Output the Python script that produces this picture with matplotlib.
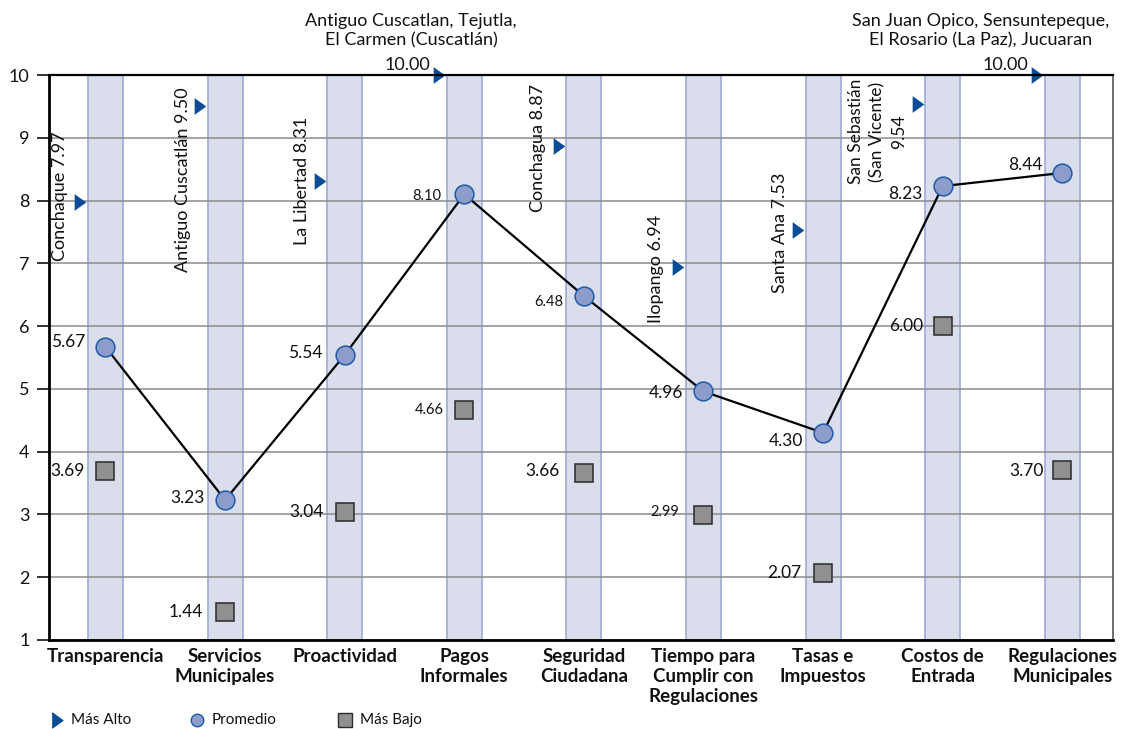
import matplotlib
matplotlib.use("Agg")
import matplotlib.pyplot as plt
from matplotlib.lines import Line2D

# ---------------- data ----------------
categories = ["Transparencia", "Servicios\nMunicipales", "Proactividad",
              "Pagos\nInformales", "Seguridad\nCiudadana",
              "Tiempo para\nCumplir con\nRegulaciones", "Tasas e\nImpuestos",
              "Costos de\nEntrada", "Regulaciones\nMunicipales"]
promedio = [5.67, 3.23, 5.54, 8.10, 6.48, 4.96, 4.30, 8.23, 8.44]
mas_bajo = [3.69, 1.44, 3.04, 4.66, 3.66, 2.99, 2.07, 6.00, 3.70]
mas_alto = [7.97, 9.50, 8.31, 10.00, 8.87, 6.94, 7.53, 9.54, 10.00]
mas_alto_mun = ["Conchaque", "Antiguo Cuscatlán", "La Libertad",
                "Antiguo Cuscatlan, Tejutla,\nEl Carmen (Cuscatlán)",
                "Conchagua", "Ilopango", "Santa Ana",
                "San Sebastián\n(San Vicente)",
                "San Juan Opico, Sensuntepeque,\nEl Rosario (La Paz), Jucuaran"]
yticks = [1, 2, 3, 4, 5, 6, 7, 8, 9, 10]
legend_labels = ["Más Alto", "Promedio", "Más Bajo"]

# ---------------- style ----------------
FONT = "Lato"
plt.rcParams["font.family"] = [FONT, "DejaVu Sans"]
band_face = "#D9DDEC"
band_edge = "#A3B0D9"
circ_face = "#8C9CCB"
circ_edge = "#1F5AA6"
sq_face = "#909090"
sq_edge = "#2A2A2A"
tri_col = "#0B4C97"
grid_col = "#8C8C8C"

tri_marker = [(-0.7, -1.0), (0.7, 0.0), (-0.7, 1.0)]

# label offsets in pixels (text right-aligned, vertically centred)
prom_dx = [-20, -20, -22, -23, -21, -20, -20, -20, -20]
prom_dy = [5, 2, 2, -2, -6, -2, -8, -8, 8]
prom_fs = [12.5, 12.5, 12.5, 10.5, 10.5, 12.5, 12.5, 12.5, 12.5]
bajo_dx = [-21, -22, -21, -20, -24, -24, -22, -19, -19]
bajo_dy = [0, 0, 0, 0, 2, 3, 0, 0, 0]
bajo_fs = [12.5, 12.5, 12.5, 10.5, 12.5, 10.5, 12.5, 12.5, 12.5]
# más alto label placement: kind, dx, dy, va
alto_kind = ["rot", "rot", "rot", "top", "rot", "rot", "rot", "rot2", "top"]
alto_dx = [-20, -17, -18, -28, -21, -22, -18, -40, -57]
alto_dy = [6, 19, 0, 44, -2, -2, -3, 25, 44]
alto_va = ["center", "top", "center", "center", "center", "center", "center", "top", "center"]
TRI_SHIFT = -0.21

W, H = 1128, 729
fig = plt.figure(figsize=(W / 100, H / 100), dpi=100)
ax = fig.add_axes([49 / W, 1 - 640 / H, (1113 - 49) / W, (640 - 75) / H])

x = list(range(len(categories)))
ax.set_xlim(-0.472, 8.424)
ax.set_ylim(1, 10)

# background bands
ax.bar(x, [max(yticks) - min(yticks)] * len(x), bottom=min(yticks), width=0.293,
       color=band_face, edgecolor=band_edge, linewidth=1.3, zorder=0.5)

ax.set_axisbelow("line")
ax.yaxis.grid(True, color=grid_col, linewidth=1.1)
ax.xaxis.grid(False)

# promedio line
ax.plot(x, promedio, color="black", linewidth=1.6, zorder=3)
ax.plot(x, promedio, linestyle="none", marker="o", markersize=13.5,
        markerfacecolor=circ_face, markeredgecolor=circ_edge, markeredgewidth=1.1, zorder=4)
# más bajo
ax.plot(x, mas_bajo, linestyle="none", marker="s", markersize=12.5,
        markerfacecolor=sq_face, markeredgecolor=sq_edge, markeredgewidth=1.1, zorder=4)
# más alto
xa = [xi + TRI_SHIFT for xi in x]
ax.plot(xa, mas_alto, linestyle="none", marker=tri_marker, markersize=12,
        color=tri_col, markeredgewidth=0, zorder=5, clip_on=False)

for i in x:
    ax.annotate(f"{promedio[i]:.2f}", (i, promedio[i]), xytext=(prom_dx[i], prom_dy[i]),
                textcoords="offset pixels", ha="right", va="center",
                fontsize=prom_fs[i], color="#111111", zorder=6)
    ax.annotate(f"{mas_bajo[i]:.2f}", (i, mas_bajo[i]), xytext=(bajo_dx[i], bajo_dy[i]),
                textcoords="offset pixels", ha="right", va="center",
                fontsize=bajo_fs[i], color="#111111", zorder=6)
    k = alto_kind[i]
    if k == "rot":
        ax.annotate(f"{mas_alto_mun[i]} {mas_alto[i]:.2f}", (xa[i], mas_alto[i]),
                    xytext=(alto_dx[i], alto_dy[i]), textcoords="offset pixels",
                    rotation=90, ha="center", va=alto_va[i], fontsize=13,
                    color="#111111", annotation_clip=False)
    elif k == "rot2":
        ax.annotate(f"{mas_alto_mun[i]}\n{mas_alto[i]:.2f}", (xa[i], mas_alto[i]),
                    xytext=(alto_dx[i], alto_dy[i]), textcoords="offset pixels",
                    rotation=90, ha="center", va=alto_va[i], fontsize=12.5,
                    multialignment="center", linespacing=1.4,
                    color="#111111", annotation_clip=False)
    else:
        ax.annotate(f"{mas_alto[i]:.2f}", (xa[i], mas_alto[i]), xytext=(-9, 10),
                    textcoords="offset pixels", ha="right", va="center",
                    fontsize=13, color="#111111", annotation_clip=False)
        ax.annotate(mas_alto_mun[i], (xa[i], mas_alto[i]), xytext=(alto_dx[i], alto_dy[i]),
                    textcoords="offset pixels", ha="center", va="center",
                    fontsize=13, multialignment="center", linespacing=1.25,
                    color="#111111", annotation_clip=False)

# axes styling
ax.set_yticks(yticks)
ax.set_yticklabels([str(v) for v in yticks])
ax.tick_params(axis="y", length=9, width=1.2, pad=5, labelsize=13, direction="out",
               colors="#111111")
ax.set_xticks(x)
ax.set_xticklabels(categories, fontweight="bold", fontsize=13.5, linespacing=1.2)
ax.tick_params(axis="x", length=0, pad=6, colors="#111111")
for side, lw, col in [("left", 2.0, "black"), ("bottom", 2.0, "black"),
                      ("top", 1.6, "black"), ("right", 1.2, "#555555")]:
    ax.spines[side].set_linewidth(lw)
    ax.spines[side].set_color(col)
    ax.spines[side].set_zorder(5)

# legend (manual)
ly = 1 - 720 / H
leg = [(57, 71, tri_marker, 11, tri_col, tri_col),
       (197, 212, "o", 9, circ_face, circ_edge),
       (345, 360, "s", 9.5, sq_face, sq_edge)]
for (mx, tx, mk, ms, fc, ec), lab in zip(leg, legend_labels):
    fig.add_artist(Line2D([mx / W], [ly], transform=fig.transFigure, marker=mk,
                          markersize=ms, markerfacecolor=fc, markeredgecolor=ec,
                          markeredgewidth=1.0, linestyle="none"))
    fig.text(tx / W, ly, lab, ha="left", va="center", fontsize=11, color="#111111")

fig.savefig("out.png", dpi=100)
